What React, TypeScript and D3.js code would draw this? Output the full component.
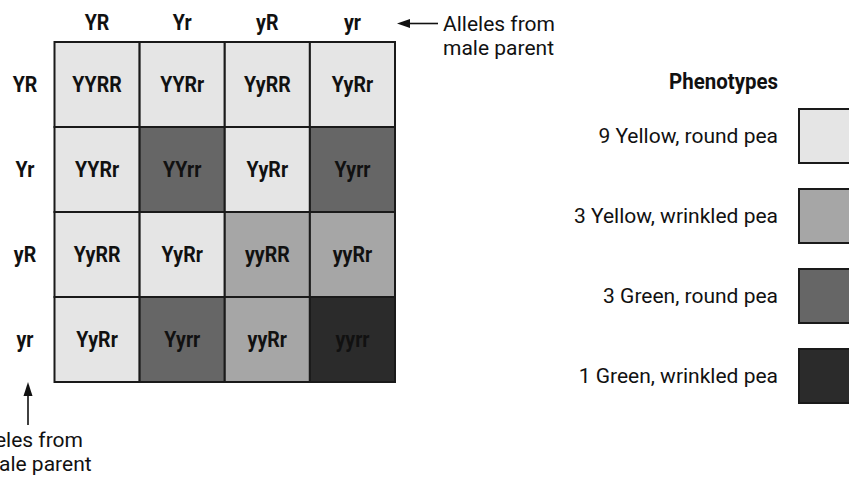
import React from "react";
import * as d3 from "d3";

const W = 849;
const H = 477;

const maleAlleles = ["YR", "Yr", "yR", "yr"];
const femaleAlleles = ["YR", "Yr", "yR", "yr"];
const genotypes = [
  ["YYRR", "YYRr", "YyRR", "YyRr"],
  ["YYRr", "YYrr", "YyRr", "Yyrr"],
  ["YyRR", "YyRr", "yyRR", "yyRr"],
  ["YyRr", "Yyrr", "yyRr", "yyrr"],
];
const phenotypeLabels = [
  "9 Yellow, round pea",
  "3 Yellow, wrinkled pea",
  "3 Green, round pea",
  "1 Green, wrinkled pea",
];
// phenotype class per cell (index into phenotypeLabels)
const cellPhenotype = [
  [0, 0, 0, 0],
  [0, 2, 0, 2],
  [0, 0, 1, 1],
  [0, 2, 1, 3],
];
const phenotypeColors = ["#e5e5e5", "#a6a6a6", "#666666", "#2b2b2b"];

const BOLD = "Roboto, 'Liberation Sans', sans-serif";
const REG = "Roboto, 'Liberation Sans', sans-serif";

function BoldText({ cx, by, text, anchor = "middle", size = 22, sx = 0.89 }: { cx: number; by: number; text: string; anchor?: string; size?: number; sx?: number }) {
  return (
    <text
      transform={`translate(${cx},${by}) scale(${sx},1)`}
      textAnchor={anchor as any}
      fontFamily={BOLD}
      fontWeight="bold"
      fontSize={size}
      fill="#111"
    >
      {text}
    </text>
  );
}

function Arrow({ x1, y1, x2, y2, len = 13, hw = 4.5 }: { x1: number; y1: number; x2: number; y2: number; len?: number; hw?: number }) {
  // tip at (x2, y2)
  const dx = x2 - x1;
  const dy = y2 - y1;
  const L = Math.hypot(dx, dy);
  const ux = dx / L;
  const uy = dy / L;
  const bx = x2 - ux * len;
  const by = y2 - uy * len;
  const px = -uy * hw;
  const py = ux * hw;
  const head = d3.path();
  head.moveTo(x2, y2);
  head.lineTo(bx + px, by + py);
  head.lineTo(bx - px, by - py);
  head.closePath();
  return (
    <g>
      <line x1={x1} y1={y1} x2={bx + ux * 2} y2={by + uy * 2} stroke="#111" strokeWidth={1.6} />
      <path d={head.toString()} fill="#111" />
    </g>
  );
}

export default function App() {
  const x = d3.scaleBand<string>().domain(d3.range(4).map(String)).range([54.5, 395]);
  const y = d3.scaleBand<string>().domain(d3.range(4).map(String)).range([42, 382]);
  const ly = d3.scaleBand<string>().domain(d3.range(4).map(String)).range([96, 416]);
  const color = d3.scaleOrdinal<number, string>().domain(d3.range(4)).range(phenotypeColors);

  const cells: { r: number; c: number; g: string; p: number }[] = [];
  genotypes.forEach((row, r) => row.forEach((g, c) => cells.push({ r, c, g, p: cellPhenotype[r][c] })));

  const bw = x.bandwidth();
  const bh = y.bandwidth();
  const lh = ly.bandwidth();

  return (
    <svg width={W} height={H} style={{ position: "absolute", left: 0, top: 0, background: "#fff" }}>
      {cells.map((d) => (
        <rect key={`r${d.r}-${d.c}`} x={x(String(d.c))} y={y(String(d.r))} width={bw} height={bh} fill={color(d.p)} stroke="#1a1a1a" strokeWidth={2} />
      ))}
      {cells.map((d) => (
        <BoldText key={`t${d.r}-${d.c}`} cx={x(String(d.c))! + bw / 2} by={y(String(d.r))! + bh / 2 + 7.8} text={d.g} />
      ))}
      {maleAlleles.map((a, i) => (
        <BoldText key={"m" + i} cx={x(String(i))! + bw / 2} by={29.5} text={a} />
      ))}
      {femaleAlleles.map((a, i) => (
        <BoldText key={"f" + i} cx={25} by={y(String(i))! + bh / 2 + 7.8} text={a} />
      ))}
      {/* top annotation */}
      <Arrow x1={438} y1={23.5} x2={397} y2={23.5} len={13} hw={4.5} />
      <text x={443} y={31} fontFamily={REG} fontSize={21} fill="#111">
        <tspan x={443}>Alleles from</tspan>
        <tspan x={443} dy={24}>male parent</tspan>
      </text>
      {/* bottom annotation */}
      <Arrow x1={28} y1={425} x2={28} y2={382} len={14} hw={4.5} />
      <text x={27} y={447} textAnchor="middle" fontFamily={REG} fontSize={21} fill="#111">
        <tspan x={27}>Alleles from</tspan>
        <tspan x={27} dy={24}>female parent</tspan>
      </text>
      {/* legend */}
      <BoldText cx={778} by={89} text="Phenotypes" anchor="end" size={22} sx={0.93} />
      {phenotypeLabels.map((l, i) => (
        <g key={"l" + i}>
          <rect x={799} y={ly(String(i))! + 13} width={80} height={lh - 26} fill={phenotypeColors[i]} stroke="#1a1a1a" strokeWidth={2} />
          <text x={778} y={ly(String(i))! + lh / 2 + 6.5} textAnchor="end" fontFamily={REG} fontSize={21} fill="#111">
            {l}
          </text>
        </g>
      ))}
    </svg>
  );
}
